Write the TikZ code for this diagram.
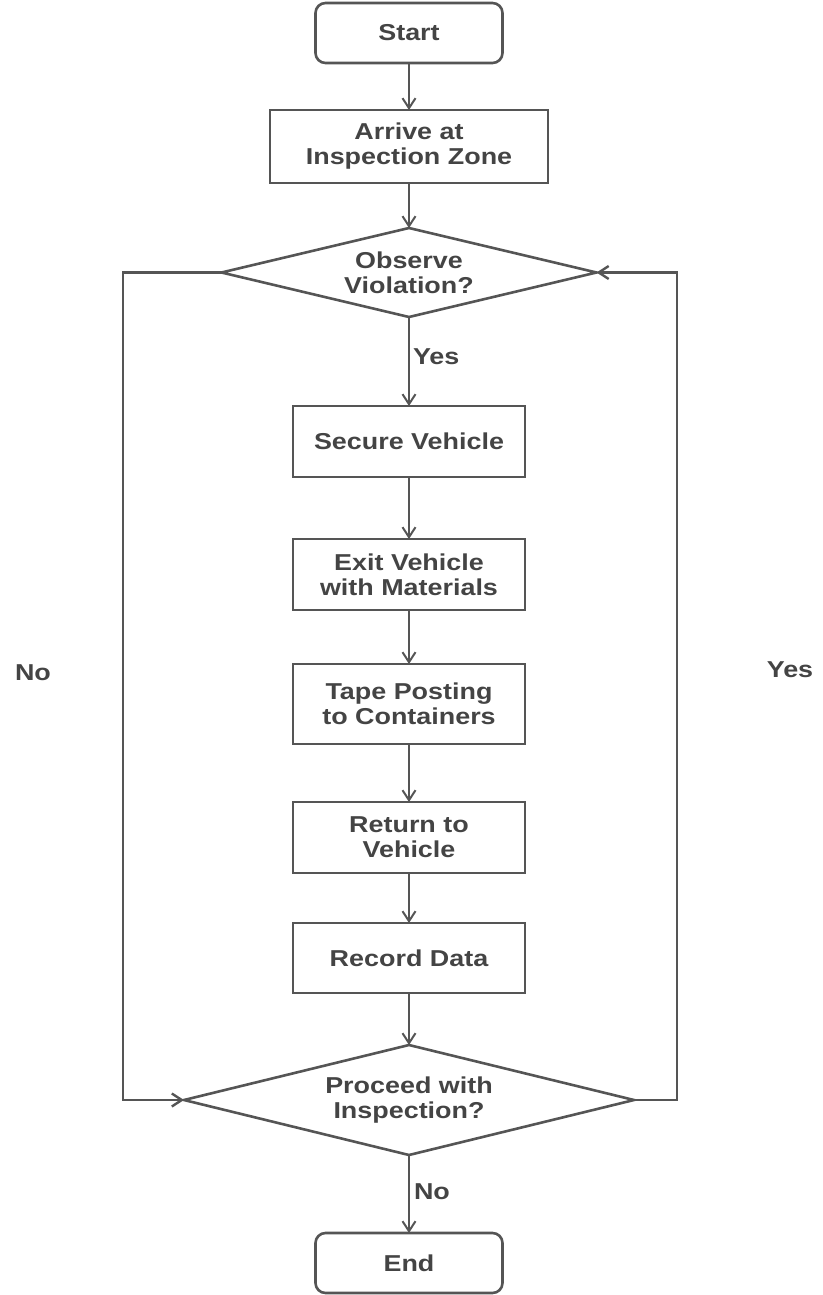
\documentclass[tikz,border=0pt]{standalone}
\usepackage{fontspec}
\setmainfont{Liberation Sans}[FakeStretch=1.17]
\usepackage{tikz}
\usetikzlibrary{arrows.meta,positioning,shapes.geometric}
\definecolor{inkgray}{HTML}{444444}
\definecolor{linegray}{HTML}{555555}
\tikzset{
  procbox/.style={rectangle, draw=linegray, line width=2.6pt, align=center, text=inkgray,
                  font=\bfseries\fontsize{23}{25}\selectfont, inner sep=0pt, outer sep=0pt,
                  minimum width=232pt, minimum height=71pt},
  termbox/.style={procbox, rounded corners=10pt, minimum width=187pt, minimum height=60pt},
  decide/.style={diamond, aspect=4, draw=linegray, line width=2.6pt, align=center, text=inkgray,
                 font=\bfseries\fontsize{23}{25}\selectfont, inner sep=0pt, outer sep=0pt},
  arr/.style={-{Straight Barb[length=10pt,width=13pt]}, line width=2pt, draw=linegray},
  lbl/.style={font=\bfseries\fontsize{23}{25}\selectfont, text=inkgray},
}
\begin{document}
\begin{tikzpicture}[x=1pt, y=-1pt, node distance=55pt]
    \useasboundingbox (0,0) rectangle (822,1295);
    \node[termbox] (start) at (409,33) {Start};
    \node[procbox, minimum width=278pt, minimum height=73pt, below=47pt of start] (arrive) {Arrive at\\Inspection Zone};
    \node[decide, minimum width=375pt, minimum height=89pt, below=45pt of arrive] (observe) {Observe\\Violation?};
    \node[procbox, below=89pt of observe] (secure) {Secure Vehicle};
    \node[procbox, below=62pt of secure] (exitv) {Exit Vehicle\\with Materials};
    \node[procbox, minimum height=80pt, below=54pt of exitv] (tape) {Tape Posting\\to Containers};
    \node[procbox, below=58pt of tape] (return) {Return to\\Vehicle};
    \node[procbox, minimum height=70pt, below=50pt of return] (record) {Record Data};
    \node[decide, minimum width=450pt, minimum height=110pt, below=52pt of record] (proceed) {Proceed with\\Inspection?};
    \node[termbox, below=78pt of proceed] (end) {End};
    \coordinate (lft) at (123,0);
    \coordinate (rgt) at (677,0);
    \node[lbl] (nolbl) at (33,673) {No};
    \node[lbl] (yeslbl) at (790,670) {Yes};
    \draw[arr] (start) -- (arrive); \draw[arr] (arrive) -- (observe);
    \draw[arr] (observe) -- node[lbl, right, inner sep=3pt, pos=0.45] (yes1) {Yes} (secure);
    \draw[arr] (secure) -- (exitv); \draw[arr] (exitv) -- (tape);
    \draw[arr] (tape) -- (return); \draw[arr] (return) -- (record);
    \draw[arr] (record) -- (proceed);
    \draw[arr] (proceed) -- node[lbl, right, inner sep=4pt, pos=0.47] (no1) {No} (end);
    \draw[arr, line width=2.4pt] (observe.west) -- (observe.west -| lft) |- (proceed.west);
    \draw[arr, line width=2.4pt] (proceed.east) -- (proceed.east -| rgt) |- (observe.east);
  \end{tikzpicture}
\end{document}
